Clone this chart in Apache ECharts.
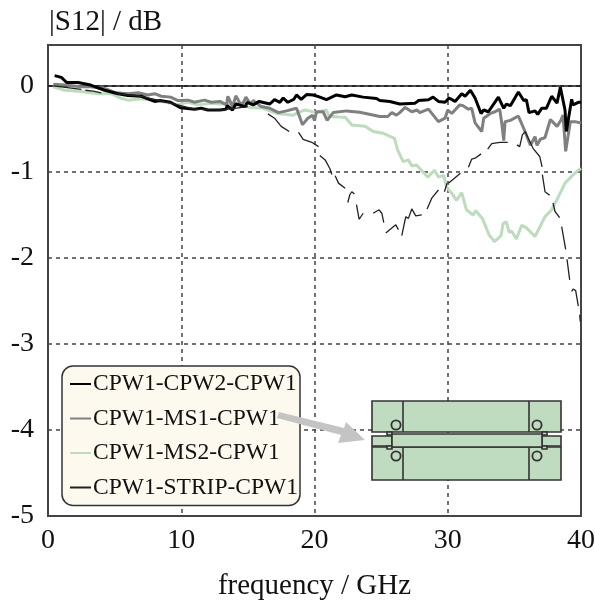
<!DOCTYPE html>
<html>
<head>
<meta charset="utf-8">
<script src="https://cdn.jsdelivr.net/npm/echarts@6/dist/echarts.min.js"></script>
<style>html,body{margin:0;padding:0;background:#fff}#c{width:595px;height:603px}</style>
</head>
<body>
<div id="c"></div>
<script>
const seriesNames = ['CPW1-CPW2-CPW1','CPW1-MS1-CPW1','CPW1-MS2-CPW1','CPW1-STRIP-CPW1'];
const xTicks = [0,10,20,30,40];
const yTicks = [-5,-4,-3,-2,-1,0];

const cpw2Freq = [0.5,1,1.4,2.25,3.2,4.25,5.25,6,7,7.5,8,8.4,9.2,9.9,10.3,11,11.5,12,12.9,13.35,13.45,13.85,14.1,14.8,14.95,15.4,15.85,16.65,17,17.4,17.65,18,18.45,18.65,19,19.4,19.9,20.3,20.9,21.65,22.3,22.8,23.65,24.65,24.9,25.65,26.4,27.55,27.8,28.55,28.9,29.3,29.8,30.1,30.55,31.05,31.3,31.7,32.05,32.5,32.7,33.05,33.8,34.2,34.4,34.7,35.3,35.7,35.9,36.1,36.55,36.75,37.05,37.4,37.8,38.2,38.45,38.6,38.8,38.9,39.05,39.3,39.4,39.8,40];
const cpw2Vals = [0.12,0.10,0.04,0.04,0.01,-0.05,-0.09,-0.11,-0.12,-0.15,-0.18,-0.17,-0.19,-0.25,-0.26,-0.27,-0.26,-0.28,-0.28,-0.27,-0.23,-0.28,-0.21,-0.24,-0.19,-0.22,-0.18,-0.21,-0.16,-0.19,-0.14,-0.19,-0.155,-0.105,-0.155,-0.10,-0.105,-0.125,-0.16,-0.105,-0.125,-0.105,-0.13,-0.145,-0.17,-0.18,-0.21,-0.20,-0.17,-0.16,-0.13,-0.18,-0.19,-0.14,-0.18,-0.09,-0.12,-0.05,-0.14,-0.32,-0.28,-0.30,-0.13,-0.26,-0.21,-0.23,-0.07,-0.17,-0.16,-0.31,-0.29,-0.33,-0.26,-0.26,-0.12,-0.20,-0.015,-0.015,-0.28,-0.53,-0.53,-0.155,-0.22,-0.19,-0.19];

const ms1Freq = [0.4,1.25,2.5,3.2,4.25,5.1,6,6.75,7.5,8,8.5,9.2,9.75,10.5,11,11.75,12.25,12.9,13.4,13.5,13.85,14.1,14.4,14.65,14.85,15.2,15.4,16,16.65,17.3,17.9,18.65,19.1,19.5,19.85,20,20.15,20.65,20.95,21.4,22.4,23.4,24.9,25.5,25.8,26.15,26.4,26.8,27.3,27.7,27.9,28.55,29.3,29.8,30,30.3,30.9,31.15,31.55,31.8,32.05,32.55,32.7,33.2,33.55,33.9,34.05,34.2,34.3,34.7,35.3,35.8,36.2,36.55,36.7,36.95,37.3,37.7,38.2,38.5,38.65,38.85,39,39.2,39.55,40];
const ms1Vals = [0.02,0.01,-0.01,-0.01,-0.03,-0.08,-0.09,-0.08,-0.105,-0.09,-0.12,-0.13,-0.17,-0.165,-0.19,-0.165,-0.19,-0.18,-0.22,-0.12,-0.24,-0.115,-0.20,-0.20,-0.13,-0.21,-0.17,-0.24,-0.26,-0.31,-0.29,-0.26,-0.45,-0.375,-0.34,-0.40,-0.30,-0.30,-0.40,-0.31,-0.29,-0.305,-0.355,-0.355,-0.31,-0.34,-0.31,-0.25,-0.30,-0.28,-0.31,-0.27,-0.415,-0.375,-0.28,-0.32,-0.22,-0.23,-0.27,-0.26,-0.43,-0.53,-0.375,-0.32,-0.30,-0.27,-0.43,-0.635,-0.415,-0.40,-0.35,-0.53,-0.69,-0.59,-0.69,-0.62,-0.60,-0.39,-0.47,-0.395,-0.34,-0.76,-0.76,-0.415,-0.415,-0.43];

const ms2Freq = [0.4,1.25,2.5,3.75,4.75,5.4,6,7,8,8.9,9.6,10.5,11.25,12.25,12.9,14.15,15.15,16.15,17.15,18.4,18.9,19.3,20.15,20.9,21.1,21.8,22.3,22.8,23.8,24.4,25.15,26,26.25,26.65,27.05,27.3,27.65,28.5,29,29.3,29.7,29.9,30.4,30.65,31.05,31.2,31.4,31.9,32.1,32.6,33.1,33.5,34,34.15,34.4,34.6,34.8,35.15,35.55,35.9,36.55,36.7,37.3,37.8,38.3,38.8,39.3,39.8,40];
const ms2Vals = [-0.01,-0.05,-0.065,-0.09,-0.09,-0.14,-0.165,-0.15,-0.17,-0.19,-0.22,-0.19,-0.22,-0.20,-0.21,-0.20,-0.25,-0.26,-0.32,-0.34,-0.30,-0.28,-0.31,-0.28,-0.35,-0.36,-0.365,-0.455,-0.47,-0.53,-0.55,-0.61,-0.75,-0.88,-0.86,-0.93,-0.92,-1.06,-0.98,-1.06,-1.04,-1.17,-1.27,-1.33,-1.24,-1.25,-1.44,-1.50,-1.45,-1.54,-1.73,-1.81,-1.74,-1.60,-1.58,-1.70,-1.69,-1.78,-1.62,-1.65,-1.75,-1.74,-1.52,-1.44,-1.29,-1.13,-1.05,-0.98,-0.96];

// null values mark the breaks in the thin trace
const stripFreq = [0.4,2.5,2.65,2.8,3.4,4,4.4,5,7,9,11,13,15,15.8,16.5,17,17.5,18.1,18.4,18.8,19.15,19.8,20.3,20.35,20.4,20.8,21.15,21.3,21.4,21.55,21.8,21.95,22.3,22.4,22.5,22.65,22.8,23,23.1,23.15,23.35,23.65,24,24.4,24.55,24.85,25.05,25.2,25.3,25.35,26.1,26.3,26.4,26.55,26.85,27.05,27.3,27.6,28.05,28.2,28.45,28.8,29.3,29.5,29.75,29.95,30,30.05,30.95,31.2,31.55,31.8,32.05,32.5,32.8,33,33.3,33.9,34.5,34.9,35.2,35.4,35.6,35.8,36.05,36.4,36.9,37.08,37.09,37.1,37.3,37.65,37.8,37.9,38.05,38.15,38.4,38.5,38.55,38.85,38.9,38.95,39.15,39.2,39.3,39.4,39.6,39.8,39.85,39.9,39.95];
const stripVals = [0,-0.04,null,-0.05,-0.06,-0.08,null,-0.09,-0.12,-0.19,-0.27,-0.28,-0.24,null,-0.325,-0.375,-0.47,-0.53,null,-0.54,-0.62,-0.655,-0.705,null,-0.81,-0.86,-0.96,-1.03,null,-1.045,-1.13,-1.11,-1.19,null,-1.355,-1.265,-1.23,-1.255,null,-1.38,-1.55,-1.48,null,-1.48,-1.5,-1.44,-1.48,-1.59,null,-1.71,-1.615,-1.67,null,-1.74,-1.52,-1.54,-1.43,-1.51,-1.50,null,-1.43,-1.305,-1.21,null,-1.23,-1.13,null,-1.13,-1.015,null,-0.945,-0.85,-0.84,-0.79,null,-0.735,-0.67,-0.655,-0.655,null,-0.685,-0.705,-0.57,-0.53,-0.61,-0.725,-0.82,-0.94,null,-1.03,-1.23,-1.27,null,-1.36,-1.46,-1.44,-1.53,null,-1.635,-1.90,null,-2.015,-2.255,null,-2.39,-2.36,-2.38,-2.56,null,-2.66,-2.74];

const pairs = (f, v) => f.map((x, i) => [x, v[i]]);
const font = '"Liberation Serif", "Times New Roman", serif';
const frame = '#444';
const fill = '#c0dcc0';
const edge = '#333';

const box = (x, y, w, h) => ({type:'rect', shape:{x, y, width:w, height:h}, style:{fill, stroke:edge, lineWidth:1.6}, z:10});
const ring = (cx, cy) => ({type:'circle', shape:{cx, cy, r:4.6}, style:{fill, stroke:edge, lineWidth:1.8}, z:11});

const chart = echarts.init(document.getElementById('c'), null, {renderer:'canvas'});
chart.setOption({
  animation:false,
  backgroundColor:'#fff',
  textStyle:{fontFamily:font},
  title:{text:'|S12| / dB', left:44, top:3, textStyle:{fontFamily:font, fontSize:29, fontWeight:'normal', color:'#111'}},
  grid:{left:48, right:14, top:45, bottom:87, show:true, borderColor:frame, borderWidth:2, backgroundColor:'transparent', outerBoundsMode:'none', containLabel:false},
  legend:{
    orient:'vertical', left:62, top:366, padding:[6,2,6,7], itemGap:10.5, itemWidth:21, itemHeight:24,
    itemStyle:{opacity:0},
    backgroundColor:'#fdf9ef', borderColor:edge, borderWidth:1.5, borderRadius:11,
    textStyle:{fontFamily:font, fontSize:23.5, color:'#111', padding:[0,0,0,-3]},
    data:seriesNames, selectedMode:false, z:20
  },
  xAxis:{
    type:'value', min:xTicks[0], max:xTicks[4], interval:10,
    name:'frequency / GHz', nameLocation:'middle', nameGap:56,
    nameTextStyle:{fontFamily:font, fontSize:29, color:'#111'},
    axisLine:{show:false}, axisTick:{show:false},
    axisLabel:{fontFamily:font, fontSize:28, color:'#111', margin:11},
    splitLine:{show:true, lineStyle:{type:[4,4], color:frame, width:1.5}}
  },
  yAxis:{
    type:'value', min:yTicks[0], max:0.476, interval:1,
    axisLine:{show:false}, axisTick:{show:false},
    axisLabel:{fontFamily:font, fontSize:28, color:'#111', margin:14,
      formatter:v => v > 0 ? '' : String(v)},
    splitLine:{show:true, lineStyle:{type:[4,4], color:frame, width:1.5}}
  },
  series:[
    {name:seriesNames[0], type:'line', z:6, showSymbol:false, symbol:'none', data:pairs(cpw2Freq,cpw2Vals), lineStyle:{color:'#000', width:3}, itemStyle:{color:'#000'},
     markLine:{silent:true, symbol:'none', label:{show:false}, lineStyle:{color:'#111', width:1.5, type:'solid'}, data:[{yAxis:0}], z:1}},
    {name:seriesNames[1], type:'line', z:5, showSymbol:false, symbol:'none', data:pairs(ms1Freq,ms1Vals), lineStyle:{color:'#808080', width:3}, itemStyle:{color:'#808080'}},
    {name:seriesNames[2], type:'line', z:4, showSymbol:false, symbol:'none', data:pairs(ms2Freq,ms2Vals), lineStyle:{color:'#bddcbd', width:3}, itemStyle:{color:'#bddcbd'}},
    {name:seriesNames[3], type:'line', z:7, showSymbol:false, symbol:'none', connectNulls:false, data:pairs(stripFreq,stripVals), lineStyle:{color:'#222', width:1.3}, itemStyle:{color:'#222'}}
  ],
  graphic:[
    box(372,401,189,31), box(372,447,189,33),
    {type:'line', shape:{x1:403,y1:401,x2:403,y2:432}, style:{stroke:edge, lineWidth:1.6}, z:11},
    {type:'line', shape:{x1:529,y1:401,x2:529,y2:432}, style:{stroke:edge, lineWidth:1.6}, z:11},
    {type:'line', shape:{x1:403,y1:447,x2:403,y2:480}, style:{stroke:edge, lineWidth:1.6}, z:11},
    {type:'line', shape:{x1:529,y1:447,x2:529,y2:480}, style:{stroke:edge, lineWidth:1.6}, z:11},
    box(372,436,20,10), box(542,436,19,10),
    box(387,432,5,3), box(542,432,5,3), box(387,446,5,3), box(542,446,5,3),
    box(392,434,150,13),
    ring(396,425), ring(537,425), ring(396,456), ring(537,456),
    {type:'polygon', shape:{points:[[279,412],[344,428],[346,422],[365,440],[338,443],[341,435],[277,418]]}, style:{fill:'#c4c4c4'}, z:30}
  ]
});
</script>
</body>
</html>
